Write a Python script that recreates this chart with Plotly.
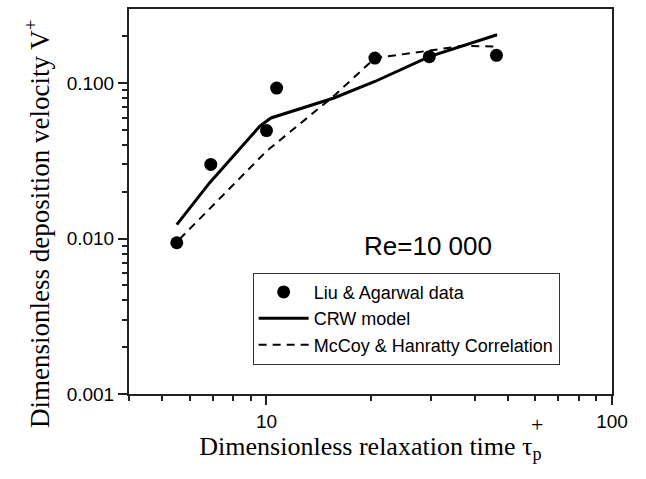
import plotly.graph_objects as go
import numpy as np

# Liu & Agarwal data
tau_data = [5.5, 6.9, 10.0, 10.7, 20.6, 29.6, 46.3]
v_data = [0.0094, 0.030, 0.0495, 0.093, 0.145, 0.148, 0.151]

# CRW model
tau_crw = [5.5, 6.85, 9.55, 10.3, 15.6, 20.6, 29.6, 46.5]
v_crw = [0.0123, 0.0229, 0.0527, 0.0597, 0.080, 0.1025, 0.148, 0.205]

# McCoy & Hanratty correlation
tau_mh = [5.6, 10.0, 15.6, 20.6, 29.6, 37.0, 46.5]
v_mh = [0.0099, 0.0365, 0.082, 0.145, 0.162, 0.174, 0.172]

x_ticks = [10, 100]
x_ticktext = ["10", "100"]
y_ticks = [0.001, 0.01, 0.1]
y_ticktext = ["0.001", "0.010", "0.100"]

x_minor = [4, 5, 6, 7, 8, 9, 20, 30, 40, 50, 60, 70, 80, 90]
y_minor = [k * 10.0 ** e for e in (-3, -2, -1) for k in range(2, 10) if k * 10.0 ** e <= 0.3]

fig = go.Figure()
fig.add_trace(go.Scatter(x=tau_data, y=v_data, mode="markers", name="Liu & Agarwal data",
                         marker=dict(color="black", size=13, symbol="circle")))
fig.add_trace(go.Scatter(x=tau_crw, y=v_crw, mode="lines", name="CRW model",
                         line=dict(color="black", width=3)))
fig.add_trace(go.Scatter(x=tau_mh, y=v_mh, mode="lines", name="McCoy & Hanratty Correlation",
                         line=dict(color="black", width=2, dash="8px,6px")))

tickfont = dict(family="Liberation Sans, Arial", size=19, color="black")
serif = "Liberation Serif, Times New Roman"

fig.update_layout(
    width=646, height=479,
    margin=dict(l=129, r=34, t=7, b=85),
    plot_bgcolor="white", paper_bgcolor="white",
    showlegend=True,
    legend=dict(x=0.256, y=0.315, xanchor="left", yanchor="top",
                bgcolor="white", bordercolor="#333", borderwidth=1,
                font=dict(family="Liberation Sans, Arial", size=18, color="black"),
                itemwidth=50, tracegroupgap=0),
    xaxis=dict(type="log", range=[np.log10(4), 2], showline=True, linecolor="#222", linewidth=2,
               mirror=True, ticks="outside", ticklen=9, tickwidth=1.5, tickcolor="#222",
               tickmode="array", tickvals=x_ticks, ticktext=x_ticktext, tickfont=tickfont,
               showgrid=False, zeroline=False,
               minor=dict(ticks="outside", ticklen=5, tickwidth=1.5, tickcolor="#222",
                          tickmode="array", tickvals=x_minor, showgrid=False),
               title=dict(text="Dimensionless relaxation time τ<sub>p</sub>",
                          font=dict(family=serif, size=26, color="black"), standoff=6)),
    yaxis=dict(type="log", range=[-3, np.log10(0.3)], showline=True, linecolor="#222", linewidth=2,
               mirror=True, ticks="outside", ticklen=9, tickwidth=1.5, tickcolor="#222",
               tickmode="array", tickvals=y_ticks, ticktext=y_ticktext, tickfont=tickfont,
               showgrid=False, zeroline=False,
               minor=dict(ticks="outside", ticklen=5, tickwidth=1.5, tickcolor="#222",
                          tickmode="array", tickvals=y_minor, showgrid=False)),
)

fig.add_annotation(text="Dimensionless deposition velocity V<sup>+</sup>", xref="paper", yref="paper",
                   x=-0.19, y=0.442, xanchor="center", yanchor="middle", textangle=-90,
                   showarrow=False, font=dict(family=serif, size=27, color="black"))
fig.add_annotation(text="Re=10 000", xref="paper", yref="paper", x=0.62, y=0.385,
                   showarrow=False, font=dict(family="Liberation Sans, Arial", size=26, color="black"))
fig.add_annotation(text="+", xref="paper", yref="paper", x=0.862, y=-0.118,
                   showarrow=False, font=dict(family=serif, size=22, color="black"))

fig.write_html("out.html")
